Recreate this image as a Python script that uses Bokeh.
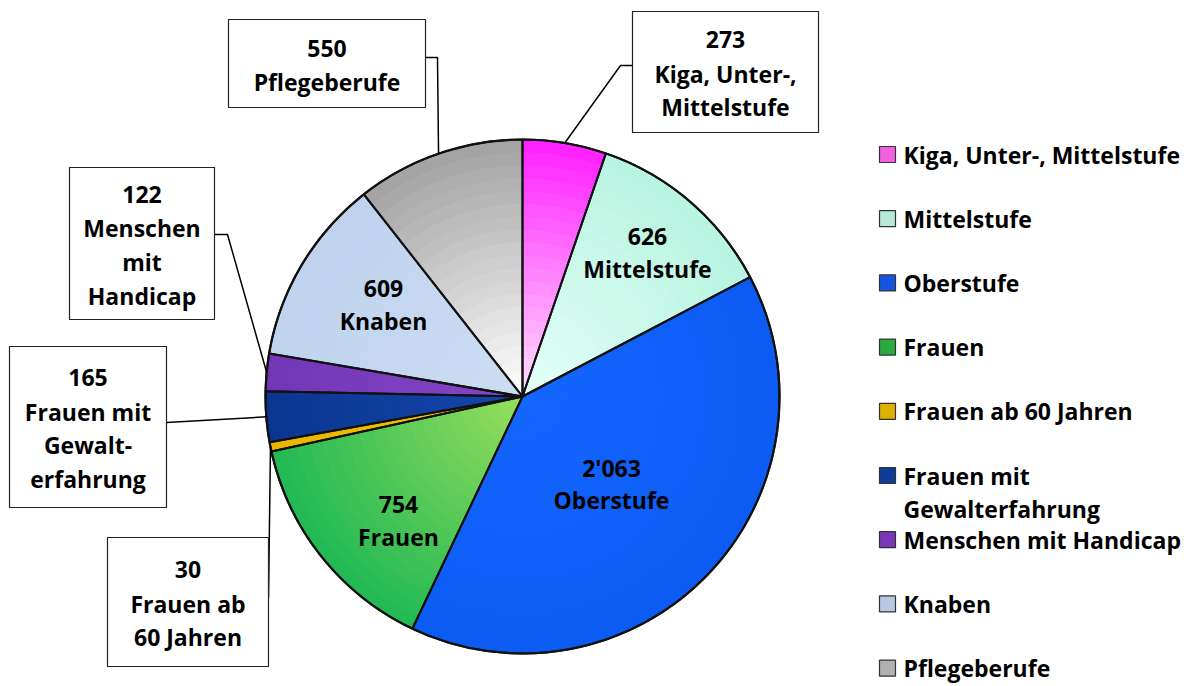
import numpy as np
from bokeh.plotting import figure
from bokeh.models import Range1d
from bokeh.embed import file_html
from bokeh.resources import INLINE
from bokeh.core.properties import value

# ---------------- data ----------------
categories = ["Kiga, Unter-, Mittelstufe", "Mittelstufe", "Oberstufe", "Frauen",
              "Frauen ab 60 Jahren", "Frauen mit Gewalterfahrung",
              "Menschen mit Handicap", "Knaben", "Pflegeberufe"]
counts = [273, 626, 2063, 754, 30, 165, 122, 609, 550]
count_labels = ["273", "626", "2'063", "754", "30", "165", "122", "609", "550"]
label_names = [["Kiga, Unter-,", "Mittelstufe"], ["Mittelstufe"], ["Oberstufe"], ["Frauen"],
               ["Frauen ab", "60 Jahren"], ["Frauen mit", "Gewalt-", "erfahrung"],
               ["Menschen", "mit", "Handicap"], ["Knaben"], ["Pflegeberufe"]]
legend_names = [["Kiga, Unter-, Mittelstufe"], ["Mittelstufe"], ["Oberstufe"], ["Frauen"],
                ["Frauen ab 60 Jahren"], ["Frauen mit", "Gewalterfahrung"],
                ["Menschen mit Handicap"], ["Knaben"], ["Pflegeberufe"]]

# colours (inner -> outer radial shading)
inner_colors = ["#FFE2FF", "#E4FFF8", "#1466FF", "#98DE5C", "#F6C800",
                "#1446AC", "#8446C8", "#CCDDF3", "#FFFFFF"]
outer_colors = ["#FF1EFF", "#B8F3E0", "#0C5CF4", "#20B855", "#E8B400",
                "#0A3690", "#7236B6", "#BFD3EE", "#A2A2A2"]
legend_colors = ["#F060E0", "#B8E8D8", "#1456E0", "#2AAA40", "#E0B000",
                 "#103C98", "#7A38B8", "#B8C8E0", "#B0B0B0"]

# ---------------- layout (reference pixel space) ----------------
W, H = 1199, 686
CX, CY_PX, R = 522, 396, 257


def Y(py):
    return H - py


CY = Y(CY_PX)
FONT = value("Open Sans")
FS = "23px"
LINE = 33.7

# label boxes for small slices: (left, top, right, bottom, elbow points)
boxes = {
    0: (632, 11, 818, 132, [(632, 65), (620, 65)]),
    8: (228, 19, 425, 107, [(425, 57), (437, 57)]),
    6: (69, 167, 214, 319, [(214, 234), (227, 234)]),
    5: (9, 346, 166, 507, [(166, 422)]),
    4: (107, 537, 268, 666, [(268, 597)]),
}
inside_pos = {1: (647, 252), 2: (611, 483), 3: (398, 520), 7: (383, 304)}

p = figure(width=W, height=H, output_backend="svg", toolbar_location=None,
           x_range=Range1d(0, W), y_range=Range1d(0, H),
           min_border=0)
p.axis.visible = False
p.grid.visible = False
p.outline_line_color = None
p.background_fill_color = "white"

vals = np.array(counts, dtype=float)
total = vals.sum()
cum = np.concatenate([[0.0], np.cumsum(vals)]) / total
starts = np.pi / 2 - 2 * np.pi * cum[:-1]
ends = np.pi / 2 - 2 * np.pi * cum[1:]
mids = (starts + ends) / 2


def hex2rgb(h):
    h = h.lstrip("#")
    return np.array([int(h[i:i + 2], 16) for i in (0, 2, 4)], dtype=float)


def mix(a, b, t):
    c = hex2rgb(a) * (1 - t) + hex2rgb(b) * t
    return "#%02x%02x%02x" % tuple(int(round(v)) for v in c)


# shaded slices: nested wedges, outermost first
N = 20
for i in range(len(counts)):
    radii = [R * (N - k) / N for k in range(N)]
    cols = [mix(inner_colors[i], outer_colors[i], (N - k - 0.5) / N) for k in range(N)]
    p.wedge(x=[CX] * N, y=[CY] * N, radius=radii,
            start_angle=starts[i], end_angle=ends[i], direction="clock",
            fill_color=cols, line_color=None)

# slice outlines
p.wedge(x=CX, y=CY, radius=R, start_angle=starts, end_angle=ends, direction="clock",
        fill_color=None, line_color="#111111", line_width=2)
p.circle(x=[CX], y=[CY], radius=R, fill_color=None, line_color="#111111", line_width=2.2)

# inside labels
tx, ty, tt = [], [], []
for i, (lx, ly) in inside_pos.items():
    lines = [count_labels[i]] + label_names[i]
    n = len(lines)
    for k, s in enumerate(lines):
        tx.append(lx)
        ty.append(Y(ly + (k - (n - 1) / 2) * 32))
        tt.append(s)

# boxed labels with leader lines
for i, (l, t, r, b, elbow) in boxes.items():
    px = CX + R * np.cos(mids[i])
    py = CY + R * np.sin(mids[i])
    xs = [e[0] for e in elbow] + [px]
    ys = [Y(e[1]) for e in elbow] + [py]
    p.line(xs, ys, line_color="black", line_width=1.5)
    p.quad(left=l, right=r, top=Y(t), bottom=Y(b), fill_color="white",
           line_color="#222222", line_width=1.2)
    lines = [count_labels[i]] + label_names[i]
    n = len(lines)
    cx_, cy_ = (l + r) / 2, (t + b) / 2 + 1.5
    for k, s in enumerate(lines):
        tx.append(cx_)
        ty.append(Y(cy_ + (k - (n - 1) / 2) * LINE))
        tt.append(s)

p.text(x=tx, y=ty, text=tt, text_align="center", text_baseline="middle",
       text_font=FONT, text_font_size=FS, text_font_style="bold", text_color="black")

# legend
LX_SQ, LX_TXT = 887, 903
leg_y = [154 + 64.2 * k for k in range(len(categories))]
p.rect(x=[LX_SQ] * len(categories), y=[Y(v) for v in leg_y], width=16, height=16,
       fill_color=legend_colors, line_color="#333333", line_width=1.2)
lx, ly, lt = [], [], []
for k, names in enumerate(legend_names):
    for j, s in enumerate(names):
        lx.append(LX_TXT)
        ly.append(Y(leg_y[k] + j * 33.5))
        lt.append(s)
p.text(x=lx, y=ly, text=lt, text_align="left", text_baseline="middle",
       text_font=FONT, text_font_size=FS, text_font_style="bold", text_color="black")

open("out.html", "w").write(file_html(p, INLINE))
